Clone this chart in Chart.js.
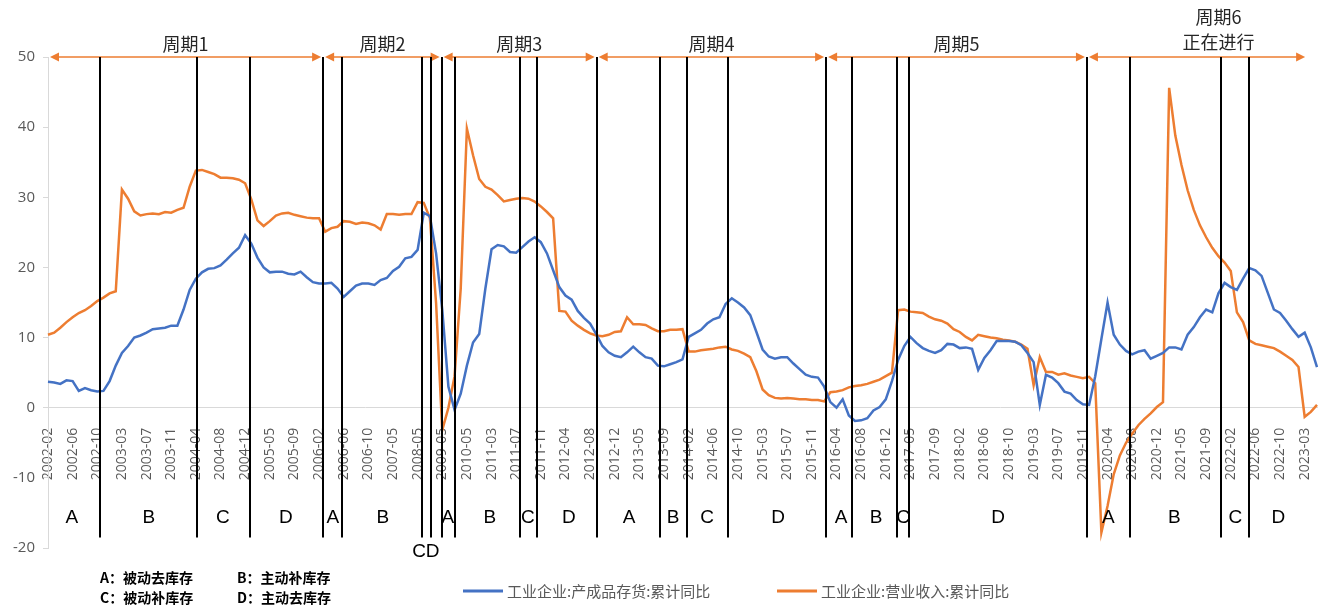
<!DOCTYPE html>
<html>
<head>
<meta charset="utf-8">
<script src="https://cdn.jsdelivr.net/npm/chart.js@4"></script>
<style>
  html, body { margin: 0; padding: 0; background: #fff; }
  #wrap { width: 1327px; height: 607px; position: relative; }
</style>
</head>
<body>
<div id="wrap"><canvas id="cycleChart"></canvas></div>
<script>
// 月份（1月并入2月累计，2007-2010年为季度数据）
const months = [
  '2002-02','2002-03','2002-04','2002-05','2002-06','2002-07','2002-08','2002-09','2002-10','2002-11','2002-12',
  '2003-02','2003-03','2003-04','2003-05','2003-06','2003-07','2003-08','2003-09','2003-10','2003-11','2003-12',
  '2004-02','2004-03','2004-04','2004-05','2004-06','2004-07','2004-08','2004-09','2004-10','2004-11','2004-12',
  '2005-02','2005-03','2005-04','2005-05','2005-06','2005-07','2005-08','2005-09','2005-10','2005-11','2005-12',
  '2006-02','2006-03','2006-04','2006-05','2006-06','2006-07','2006-08','2006-09','2006-10','2006-11','2006-12',
  '2007-02','2007-05','2007-08','2007-11',
  '2008-02','2008-05','2008-08','2008-11',
  '2009-02','2009-05','2009-08','2009-11',
  '2010-02','2010-05','2010-08','2010-11',
  '2011-02','2011-03','2011-04','2011-05','2011-06','2011-07','2011-08','2011-09','2011-10','2011-11','2011-12',
  '2012-02','2012-03','2012-04','2012-05','2012-06','2012-07','2012-08','2012-09','2012-10','2012-11','2012-12',
  '2013-02','2013-03','2013-04','2013-05','2013-06','2013-07','2013-08','2013-09','2013-10','2013-11','2013-12',
  '2014-02','2014-03','2014-04','2014-05','2014-06','2014-07','2014-08','2014-09','2014-10','2014-11','2014-12',
  '2015-02','2015-03','2015-04','2015-05','2015-06','2015-07','2015-08','2015-09','2015-10','2015-11','2015-12',
  '2016-02','2016-03','2016-04','2016-05','2016-06','2016-07','2016-08','2016-09','2016-10','2016-11','2016-12',
  '2017-02','2017-03','2017-04','2017-05','2017-06','2017-07','2017-08','2017-09','2017-10','2017-11','2017-12',
  '2018-02','2018-03','2018-04','2018-05','2018-06','2018-07','2018-08','2018-09','2018-10','2018-11','2018-12',
  '2019-02','2019-03','2019-04','2019-05','2019-06','2019-07','2019-08','2019-09','2019-10','2019-11','2019-12',
  '2020-02','2020-03','2020-04','2020-05','2020-06','2020-07','2020-08','2020-09','2020-10','2020-11','2020-12',
  '2021-02','2021-03','2021-04','2021-05','2021-06','2021-07','2021-08','2021-09','2021-10','2021-11','2021-12',
  '2022-02','2022-03','2022-04','2022-05','2022-06','2022-07','2022-08','2022-09','2022-10','2022-11','2022-12',
  '2023-02','2023-03','2023-04','2023-05'
];

// 工业企业:产成品存货:累计同比
const inventoryYoY = [
  3.7, 3.6, 3.4, 3.9, 3.8, 2.4, 2.8, 2.5, 2.3, 2.4, 3.8,
  6.0, 7.8, 8.8, 10.0, 10.3, 10.7, 11.2, 11.3, 11.4, 11.7, 11.7,
  14.0, 16.8, 18.4, 19.3, 19.8, 19.9, 20.3, 21.1, 22.0, 22.8, 24.6,
  23.4, 21.4, 20.0, 19.3, 19.4, 19.4, 19.1, 19.0, 19.4, 18.6, 17.9,
  17.7, 17.7, 17.8, 17.0, 15.8, 16.6, 17.4, 17.7, 17.7, 17.5, 18.2,
  18.5, 19.5, 20.1, 21.3, 21.5, 22.5, 27.8, 27.3, 22.0, 14.0, 3.0,
  -0.3, 2.0, 6.0, 9.3, 10.5, 17.0, 22.6, 23.2, 23.0, 22.2, 22.1,
  22.9, 23.7, 24.3, 23.6, 22.0, 19.6, 17.2, 16.0, 15.4, 13.8, 12.8,
  12.0, 10.5, 8.8, 7.9, 7.4, 7.2, 7.9, 8.7, 7.9, 7.2, 7.0,
  6.0, 5.9, 6.2, 6.5, 6.9, 10.1, 10.6, 11.1, 12.0, 12.6, 12.9,
  14.8, 15.6, 15.0, 14.3, 13.2, 10.8, 8.3, 7.3, 7.0, 7.2, 7.2,
  6.3, 5.5, 4.7, 4.4, 4.3, 3.0, 0.8, 0.0, 1.2, -1.1, -1.9,
  -1.8, -1.5, -0.4, 0.1, 1.2, 3.8, 6.8, 8.8, 10.1, 9.2, 8.5,
  8.1, 7.8, 8.2, 9.1, 9.0, 8.5, 8.6, 8.4, 5.4, 7.1, 8.2,
  9.5, 9.5, 9.5, 9.4, 8.9, 7.8, 6.5, 0.4, 4.7, 4.3, 3.5,
  2.3, 2.0, 1.1, 0.5, 0.4, 4.5, 9.8, 15.0, 10.4, 9.0, 8.1,
  7.6, 8.0, 8.2, 7.0, 7.4, 7.8, 8.6, 8.6, 8.3, 10.4, 11.5,
  12.9, 14.0, 13.6, 16.3, 17.8, 17.2, 16.8, 18.4, 19.9, 19.6, 18.8,
  16.4, 14.0, 13.5, 12.4, 11.2, 10.1, 10.7, 8.6, 5.8
];

// 工业企业:营业收入:累计同比
const revenueYoY = [
  10.4, 10.7, 11.4, 12.2, 12.9, 13.5, 13.9, 14.5, 15.2, 15.7, 16.3,
  16.6, 31.1, 29.8, 28.0, 27.4, 27.6, 27.7, 27.6, 27.9, 27.8, 28.2,
  28.5, 31.5, 33.8, 33.9, 33.6, 33.3, 32.8, 32.8, 32.7, 32.5, 32.0,
  29.7, 26.7, 25.9, 26.6, 27.4, 27.7, 27.8, 27.5, 27.3, 27.1, 27.0,
  27.0, 25.1, 25.6, 25.8, 26.6, 26.5, 26.2, 26.4, 26.3, 26.0, 25.4,
  27.6, 27.6, 27.5, 27.6, 27.6, 29.3, 29.2, 27.0, 14.9, -3.2, 0.0,
  4.5, 17.0, 39.8, 36.0, 32.6, 31.5, 31.1, 30.3, 29.4, 29.6, 29.8,
  29.9, 29.8, 29.4, 28.7, 27.9, 27.0, 13.8, 13.7, 12.4, 11.7, 11.1,
  10.6, 10.3, 10.2, 10.4, 10.8, 10.9, 12.9, 11.9, 11.9, 11.8, 11.3,
  10.9, 10.9, 11.1, 11.1, 11.2, 8.0, 8.0, 8.2, 8.3, 8.4, 8.6,
  8.7, 8.3, 8.1, 7.7, 7.2, 5.2, 2.6, 1.8, 1.4, 1.3, 1.4,
  1.3, 1.2, 1.2, 1.1, 1.1, 0.9, 2.2, 2.3, 2.5, 2.9, 3.1,
  3.2, 3.4, 3.7, 4.0, 4.5, 5.0, 13.9, 14.0, 13.7, 13.6, 13.5,
  13.0, 12.6, 12.4, 12.0, 11.2, 10.8, 10.1, 9.6, 10.4, 10.2, 10.0,
  9.9, 9.7, 9.6, 9.4, 9.0, 8.4, 3.2, 7.2, 5.1, 5.1, 4.7,
  4.9, 4.6, 4.4, 4.2, 4.4, 3.5, -17.8, -14.0, -9.5, -6.8, -5.0,
  -3.7, -2.5, -1.6, -0.8, 0.1, 0.8, 45.6, 38.8, 34.6, 31.0, 28.2,
  26.0, 24.3, 22.8, 21.6, 20.7, 19.5, 13.6, 12.2, 9.6, 9.1, 8.9,
  8.7, 8.5, 8.0, 7.4, 6.8, 5.8, -1.3, -0.6, 0.4
];

const yTicks = [50, 40, 30, 20, 10, 0, -10, -20];

// 阶段分界线（以月份序号计，可落在两个月之间）
const phaseBounds = [8.4, 24.2, 32.76, 44.66, 47.75, 60.65, 62.11, 63.9, 66.05,
  76.61, 79.42, 89.07, 99.35, 103.78, 110.44, 126.31, 130.58, 137.89, 139.84,
  168.65, 175.68, 190.46, 195.0];

// 阶段字母及其所在位置
const phaseNames = ['A','B','C','D','A','B','CD','A','B','C','D','A','B','C','D','A','B','C','D','A','B','C','D'];
const phaseAt = [3.85, 16.36, 28.37, 38.61, 46.24, 54.36, 61.34, 64.92, 71.74, 77.91, 84.57,
  94.32, 101.46, 106.99, 118.52, 128.75, 134.43, 138.82, 154.25, 172.11, 182.83, 192.74, 199.72];

// 库存周期起止
const cycleNames = ['周期1', '周期2', '周期3', '周期4', '周期5', '周期6'];
const cycleStart = [0, 44.66, 63.9, 89.07, 126.31, 168.65];
const cycleEnd = [44.66, 63.9, 89.07, 126.31, 168.65, 204.4];
const cycleOpenEnded = [false, false, false, false, false, true];

const BLUE = '#4472C4';
const ORANGE = '#ED7D31';
const GREY = '#595959';
const CJK = "'Noto Sans CJK SC', sans-serif";

function arrowHead(ctx, x, y, dir) {
  ctx.beginPath();
  ctx.moveTo(x, y);
  ctx.lineTo(x - dir * 9, y - 4.5);
  ctx.lineTo(x - dir * 9, y + 4.5);
  ctx.closePath();
  ctx.fill();
}

const cyclePlugin = {
  id: 'cyclePlugin',
  afterDraw(chart) {
    const ctx = chart.ctx;
    const xs = chart.scales.x;
    const ys = chart.scales.y;
    ctx.save();

    // 周期箭头
    const yTop = ys.getPixelForValue(50);
    ctx.strokeStyle = ORANGE;
    ctx.fillStyle = ORANGE;
    ctx.lineWidth = 1.5;
    cycleStart.forEach((s, i) => {
      const x1 = xs.getPixelForValue(s) + 2;
      const x2 = xs.getPixelForValue(cycleEnd[i]) - 2;
      ctx.beginPath();
      ctx.moveTo(x1 + 4, yTop);
      ctx.lineTo(x2 - 4, yTop);
      ctx.stroke();
      arrowHead(ctx, x1, yTop, -1);
      arrowHead(ctx, x2, yTop, 1);
    });

    // 周期标题
    ctx.fillStyle = '#262626';
    ctx.font = '18px ' + CJK;
    ctx.textAlign = 'center';
    ctx.textBaseline = 'middle';
    cycleNames.forEach((name, i) => {
      const cx = (xs.getPixelForValue(cycleStart[i]) + xs.getPixelForValue(cycleEnd[i])) / 2;
      if (cycleOpenEnded[i]) {
        const cx6 = xs.getPixelForValue(190);
        ctx.fillText(name, cx6, ys.getPixelForValue(55.7));
        ctx.fillText('正在进行', cx6, ys.getPixelForValue(52.1));
      } else {
        ctx.fillText(name, cx, ys.getPixelForValue(51.8));
      }
    });

    // 阶段分界线
    ctx.strokeStyle = '#000';
    ctx.lineWidth = 2;
    const yLow = ys.getPixelForValue(-18.5);
    phaseBounds.forEach(v => {
      const px = Math.round(xs.getPixelForValue(v));
      ctx.beginPath();
      ctx.moveTo(px, yTop);
      ctx.lineTo(px, yLow);
      ctx.stroke();
    });

    // 阶段字母
    ctx.fillStyle = '#000';
    ctx.font = '19px "Liberation Sans", sans-serif';
    phaseNames.forEach((p, i) => {
      const yv = p === 'CD' ? -20.6 : -15.75;
      ctx.fillText(p, xs.getPixelForValue(phaseAt[i]), ys.getPixelForValue(yv));
    });

    // 图例
    ctx.textAlign = 'left';
    ctx.font = '15px ' + CJK;
    ctx.lineWidth = 3;
    [[BLUE, '工业企业:产成品存货:累计同比', 463], [ORANGE, '工业企业:营业收入:累计同比', 777]].forEach(([c, t, x]) => {
      ctx.strokeStyle = c;
      ctx.beginPath();
      ctx.moveTo(x, 591);
      ctx.lineTo(x + 40, 591);
      ctx.stroke();
      ctx.fillStyle = GREY;
      ctx.fillText(t, x + 44, 591);
    });

    // 阶段说明
    ctx.fillStyle = '#000';
    ctx.font = 'bold 14px ' + CJK;
    ctx.fillText('A：被动去库存', 100, 578);
    ctx.fillText('B：主动补库存', 237, 578);
    ctx.fillText('C：被动补库存', 100, 598);
    ctx.fillText('D：主动去库存', 237, 598);

    ctx.restore();
  }
};

new Chart(document.getElementById('cycleChart'), {
  type: 'line',
  data: {
    labels: months,
    datasets: [{
      label: '工业企业:产成品存货:累计同比',
      data: inventoryYoY,
      borderColor: BLUE,
      backgroundColor: BLUE,
      borderWidth: 2.5,
      pointRadius: 0,
      tension: 0
    }, {
      label: '工业企业:营业收入:累计同比',
      data: revenueYoY,
      borderColor: ORANGE,
      backgroundColor: ORANGE,
      borderWidth: 2.5,
      pointRadius: 0,
      tension: 0
    }]
  },
  options: {
    responsive: true,
    maintainAspectRatio: false,
    animation: false,
    layout: { padding: { top: 57, bottom: 59, left: 0, right: 10 } },
    plugins: {
      legend: { display: false },
      tooltip: { enabled: false }
    },
    scales: {
      x: {
        position: { y: 0 },
        offset: false,
        grid: { display: false },
        border: { display: true, color: '#d9d9d9', width: 1 },
        afterFit: s => { s.paddingLeft = 0; s.paddingRight = 0; },
        ticks: {
          autoSkip: false,
          minRotation: 90,
          maxRotation: 90,
          padding: 12,
          color: GREY,
          font: { family: "'Open Sans', sans-serif", size: 14 },
          callback: function (v, i) { return i % 4 === 0 ? this.getLabelForValue(v) : ''; }
        }
      },
      y: {
        min: -20,
        max: 50,
        afterBuildTicks: s => { s.ticks = yTicks.map(v => ({ value: v })); },
        afterFit: s => { s.width = 48; },
        grid: { drawOnChartArea: false, drawTicks: true, tickLength: 5, color: '#d9d9d9' },
        border: { display: true, color: '#d9d9d9' },
        ticks: {
          padding: 8,
          color: GREY,
          font: { family: "'Open Sans', sans-serif", size: 15 }
        }
      }
    }
  },
  plugins: [cyclePlugin]
});
</script>
</body>
</html>
